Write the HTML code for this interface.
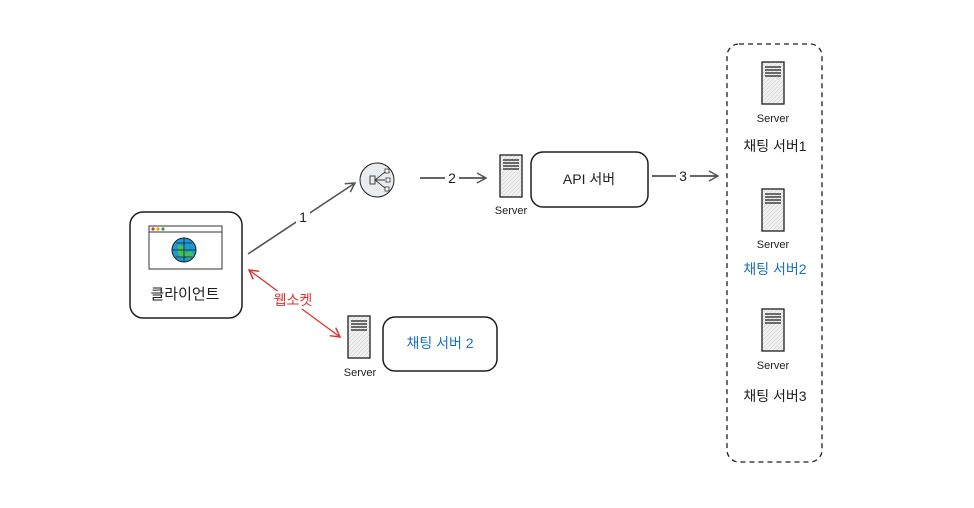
<!DOCTYPE html>
<html><head><meta charset="utf-8"><style>
html,body{margin:0;padding:0;background:#fff;}
svg{display:block;}
text{font-family:"Liberation Sans","Noto Sans CJK KR",sans-serif;fill:#1e1e1e;}
</style></head><body>
<svg width="974" height="508" viewBox="0 0 974 508" xmlns="http://www.w3.org/2000/svg">
<defs>
<pattern id="hatch" width="4" height="4" patternUnits="userSpaceOnUse"><rect width="4" height="4" fill="#f1f1f1"/><path d="M0 4L4 0" stroke="#d0d0d0" stroke-width="0.6"/></pattern>
<g id="srv">
<rect x="0" y="0" width="22" height="42" fill="url(#hatch)" stroke="#1e1e1e" stroke-width="1.3"/>
<path d="M3 5H19M3 8H19M3 11H19M3 14H19" stroke="#1e1e1e" stroke-width="1.2"/>
</g>
<marker id="ah" markerWidth="12" markerHeight="12" refX="10" refY="6" orient="auto" markerUnits="userSpaceOnUse"><path d="M1 1L10 6L1 11" fill="none" stroke="#555" stroke-width="1.5"/></marker>
<marker id="ahr" markerWidth="12" markerHeight="12" refX="10" refY="6" orient="auto-start-reverse" markerUnits="userSpaceOnUse"><path d="M1 1L10 6L1 11" fill="none" stroke="#e03131" stroke-width="1.5"/></marker>
</defs>

<!-- client -->
<rect x="130" y="212" width="112" height="106" rx="13" fill="#fff" stroke="#1e1e1e" stroke-width="1.5"/>
<rect x="149" y="226" width="73" height="43" fill="#fff" stroke="#333" stroke-width="1"/>
<line x1="149" y1="232" x2="222" y2="232" stroke="#333"/>
<circle cx="153" cy="229" r="1.6" fill="#e03131"/><circle cx="158" cy="229" r="1.6" fill="#f59f00"/><circle cx="163" cy="229" r="1.6" fill="#2f9e44"/>
<circle cx="184" cy="250" r="12" fill="#1c9ad6" stroke="#1e1e1e" stroke-width="1"/>
<path d="M178 244l6 3 2 6 5-2 3 4-5 4-4-3-4 2-3-4z" fill="#40c057"/>
<path d="M172 250H196M184 238V262M176 243H192M176 257H192" stroke="#1e1e1e" stroke-width="0.8" fill="none"/>
<text x="185" y="299" font-size="15" text-anchor="middle">클라이언트</text>

<!-- arrow 1 -->
<line x1="248" y1="254" x2="355" y2="183" stroke="#555" stroke-width="1.6" marker-end="url(#ah)"/>
<rect x="296" y="208" width="14" height="16" fill="#fff"/>
<text x="303" y="222" font-size="14" text-anchor="middle">1</text>

<!-- LB -->
<circle cx="377" cy="180" r="17" fill="#e9ecef" stroke="#1e1e1e" stroke-width="1"/>
<rect x="370" y="176" width="5" height="8" fill="none" stroke="#333" stroke-width="0.9"/>
<path d="M375 180L385 172M375 180L385 180M375 180L385 188" stroke="#333" stroke-width="0.9"/>
<rect x="385" y="169" width="4" height="4" fill="#fff" stroke="#333" stroke-width="0.8"/>
<rect x="386" y="178" width="4" height="4" fill="#fff" stroke="#333" stroke-width="0.8"/>
<rect x="385" y="187" width="4" height="4" fill="#fff" stroke="#333" stroke-width="0.8"/>

<!-- arrow 2 -->
<line x1="420" y1="178" x2="486" y2="178" stroke="#333" stroke-width="1.4" marker-end="url(#ah)"/>
<rect x="445" y="169" width="14" height="16" fill="#fff"/>
<text x="452" y="183" font-size="14" text-anchor="middle">2</text>

<use href="#srv" x="500" y="155"/>
<text x="511" y="214" font-size="11" text-anchor="middle">Server</text>
<rect x="531" y="152" width="117" height="55" rx="12" fill="#fff" stroke="#1e1e1e" stroke-width="1.5"/>
<text x="589" y="184" font-size="14" text-anchor="middle">API 서버</text>

<!-- arrow 3 -->
<line x1="652" y1="176" x2="718" y2="176" stroke="#333" stroke-width="1.4" marker-end="url(#ah)"/>
<rect x="676" y="167" width="14" height="16" fill="#fff"/>
<text x="683" y="181" font-size="14" text-anchor="middle">3</text>

<!-- dashed group -->
<rect x="727" y="44" width="95" height="418" rx="12" fill="none" stroke="#1e1e1e" stroke-width="1.3" stroke-dasharray="5 4"/>
<use href="#srv" x="762" y="62"/>
<text x="773" y="122" font-size="11" text-anchor="middle">Server</text>
<text x="775" y="151" font-size="14" text-anchor="middle">채팅 서버1</text>
<use href="#srv" x="762" y="189"/>
<text x="773" y="248" font-size="11" text-anchor="middle">Server</text>
<text x="775" y="274" font-size="14" text-anchor="middle" style="fill:#1971c2">채팅 서버2</text>
<use href="#srv" x="762" y="309"/>
<text x="773" y="369" font-size="11" text-anchor="middle">Server</text>
<text x="775" y="401" font-size="14" text-anchor="middle">채팅 서버3</text>

<!-- websocket -->
<line x1="249" y1="270" x2="340" y2="337" stroke="#e03131" stroke-width="1.3" marker-start="url(#ahr)" marker-end="url(#ahr)"/>
<rect x="270" y="291" width="46" height="18" fill="#fff"/>
<text x="293" y="305" font-size="14" text-anchor="middle" style="fill:#e03131">웹소켓</text>

<use href="#srv" x="348" y="316"/>
<text x="360" y="376" font-size="11" text-anchor="middle">Server</text>
<rect x="383" y="317" width="114" height="54" rx="12" fill="#fff" stroke="#1e1e1e" stroke-width="1.5"/>
<text x="440" y="348" font-size="14" text-anchor="middle" style="fill:#1971c2">채팅 서버 2</text>
</svg>
</body></html>
